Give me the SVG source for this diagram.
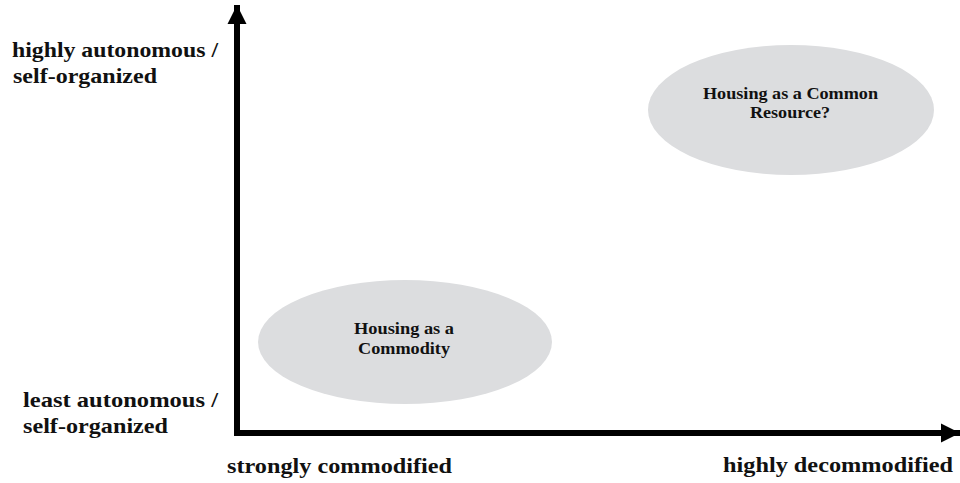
<svg xmlns="http://www.w3.org/2000/svg" width="960" height="483" viewBox="0 0 960 483">
  <style>
    .lbl { font-family: "Liberation Serif", "Times New Roman", serif; font-weight: bold; font-size: 22px; fill: #111; }
    .in { font-family: "Liberation Serif", "Times New Roman", serif; font-weight: bold; font-size: 17px; fill: #111; }
    .blob { fill: #dcdddf; }
    .axis { stroke: #000; stroke-width: 6; fill: none; }
  </style>
  <defs>
    <marker id="head" viewBox="0 0 10 10" refX="10" refY="5" markerUnits="userSpaceOnUse" markerWidth="19" markerHeight="20" orient="auto">
      <path d="M0,0 L10,5 L0,10 Z" fill="#000"/>
    </marker>
  </defs>

  <g id="commodity">
    <ellipse class="blob" cx="405" cy="342" rx="147" ry="62"/>
    <text class="in" x="354" y="334" textLength="100" lengthAdjust="spacingAndGlyphs">Housing as a</text>
    <text class="in" x="358" y="354" textLength="92" lengthAdjust="spacingAndGlyphs">Commodity</text>
  </g>

  <g id="common-resource">
    <ellipse class="blob" cx="791" cy="110" rx="143" ry="65"/>
    <text class="in" x="703" y="99" textLength="175" lengthAdjust="spacingAndGlyphs">Housing as a Common</text>
    <text class="in" x="750" y="118" textLength="80" lengthAdjust="spacingAndGlyphs">Resource?</text>
  </g>

  <g id="connectors">
    <path class="axis" d="M237,433 L237,5" marker-end="url(#head)"/>
    <path class="axis" d="M234,433 L960,433" marker-end="url(#head)"/>
  </g>

  <g id="labels">
    <text class="lbl" x="12" y="57" textLength="206" lengthAdjust="spacingAndGlyphs">highly autonomous /</text>
    <text class="lbl" x="13" y="83" textLength="144" lengthAdjust="spacingAndGlyphs">self-organized</text>
    <text class="lbl" x="23" y="407" textLength="195" lengthAdjust="spacingAndGlyphs">least autonomous /</text>
    <text class="lbl" x="23" y="433" textLength="145" lengthAdjust="spacingAndGlyphs">self-organized</text>
    <text class="lbl" x="227" y="473" textLength="225" lengthAdjust="spacingAndGlyphs">strongly commodified</text>
    <text class="lbl" x="723" y="472" textLength="230" lengthAdjust="spacingAndGlyphs">highly decommodified</text>
  </g>
</svg>
